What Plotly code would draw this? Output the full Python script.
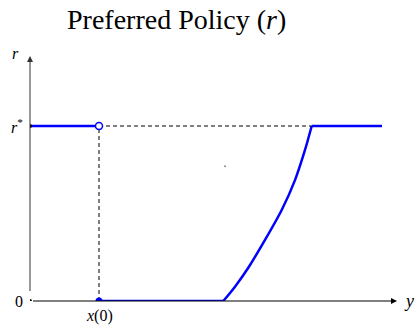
import plotly.graph_objects as go

# Data (abstract units: r* = 1)
r_star = 1.0
x0 = 0.69                      # x(0)
left_x = [0.0, 0.69]           # policy at r* before x(0)
left_y = [1.0, 1.0]
low_x = [0.69, 1.933]          # policy at 0
low_y = [0.0, 0.0]
curve_x = [1.933, 2.05, 2.183, 2.35, 2.517, 2.65, 2.75, 2.817]
curve_y = [0.0, 0.082, 0.19, 0.349, 0.52, 0.691, 0.863, 1.0]
high_x = [2.817, 3.52]
high_y = [1.0, 1.0]
specks_x = [1.95, 2.25]
specks_y = [0.77, -0.086]

x_end = 3.67
y_end = 1.40

blue = "#0000ff"
font = "Liberation Serif"

fig = go.Figure()
line = dict(color=blue, width=2.5)
fig.add_trace(go.Scatter(x=left_x, y=left_y, mode="lines", line=line))
fig.add_trace(go.Scatter(x=low_x, y=low_y, mode="lines", line=line))
fig.add_trace(go.Scatter(x=curve_x, y=curve_y, mode="lines",
                         line=dict(color=blue, width=2.5, shape="spline", smoothing=0.8)))
fig.add_trace(go.Scatter(x=high_x, y=high_y, mode="lines", line=line))

# dashed guides
dash = dict(color="black", width=1, dash="4px,3px")
fig.add_trace(go.Scatter(x=[x0, x0], y=[0, r_star], mode="lines", line=dash))
fig.add_trace(go.Scatter(x=[x0, curve_x[-1]], y=[r_star, r_star], mode="lines", line=dash))

# axes arrows
fig.add_annotation(x=x_end, y=0, ax=0, ay=0, xref="x", yref="y", axref="x", ayref="y",
                   showarrow=True, arrowhead=2, arrowsize=1.2, arrowwidth=1, arrowcolor="black", text=" ")
fig.add_annotation(x=0, y=y_end, ax=0, ay=0, xref="x", yref="y", axref="x", ayref="y",
                   showarrow=True, arrowhead=2, arrowsize=1.2, arrowwidth=1, arrowcolor="#333333", text=" ")

# markers
fig.add_trace(go.Scatter(x=[0, 0], y=[0, r_star], mode="markers",
                         marker=dict(color="black", size=4)))
fig.add_trace(go.Scatter(x=[x0], y=[0], mode="markers", marker=dict(color=blue, size=7)))
fig.add_trace(go.Scatter(x=[x0], y=[r_star], mode="markers",
                         marker=dict(color="white", size=7, line=dict(color=blue, width=1.5))))
fig.add_trace(go.Scatter(x=specks_x, y=specks_y, mode="markers",
                         marker=dict(color="#888888", size=2)))

# labels
tf = dict(family=font, size=16, color="black")
fig.add_annotation(x=0, y=y_end, xref="x", yref="y", text="<i>r</i>", showarrow=False,
                   xanchor="right", xshift=-9, yanchor="middle", yshift=3, font=tf)
fig.add_annotation(x=0, y=r_star, xref="x", yref="y", text="<i>r</i><sup>*</sup>", showarrow=False,
                   xanchor="right", xshift=-5, yanchor="middle", font=tf)
fig.add_annotation(x=0, y=0, xref="x", yref="y", text="0", showarrow=False,
                   xanchor="right", xshift=-5, yanchor="middle", font=tf)
fig.add_annotation(x=x0, y=0, xref="x", yref="y", text="<i>x</i>(0)", showarrow=False,
                   xanchor="center", yanchor="top", yshift=-4, font=tf)
fig.add_annotation(x=x_end, y=0, xref="x", yref="y", text="<i>y</i>", showarrow=False,
                   xanchor="left", xshift=5, yanchor="middle", font=dict(family=font, size=18, color="black"))

fig.add_annotation(xref="paper", yref="paper", x=(176 - 30) / 370, y=1 + (55 - 19) / 246,
                   xanchor="center", yanchor="middle", text="Preferred Policy (<i>r</i>)",
                   showarrow=False, font=dict(family=font, size=28, color="black"))

fig.update_layout(
    width=414, height=329,
    margin=dict(l=30, r=14, t=55, b=28, autoexpand=False),
    plot_bgcolor="white", paper_bgcolor="white",
    showlegend=False,
    xaxis=dict(range=[0, 3.70], visible=False, fixedrange=True),
    yaxis=dict(range=[0, 246 / 175], visible=False, fixedrange=True),
)

fig.write_html("out.html", config={"displayModeBar": False},
               post_script="document.body.style.margin='0';")
